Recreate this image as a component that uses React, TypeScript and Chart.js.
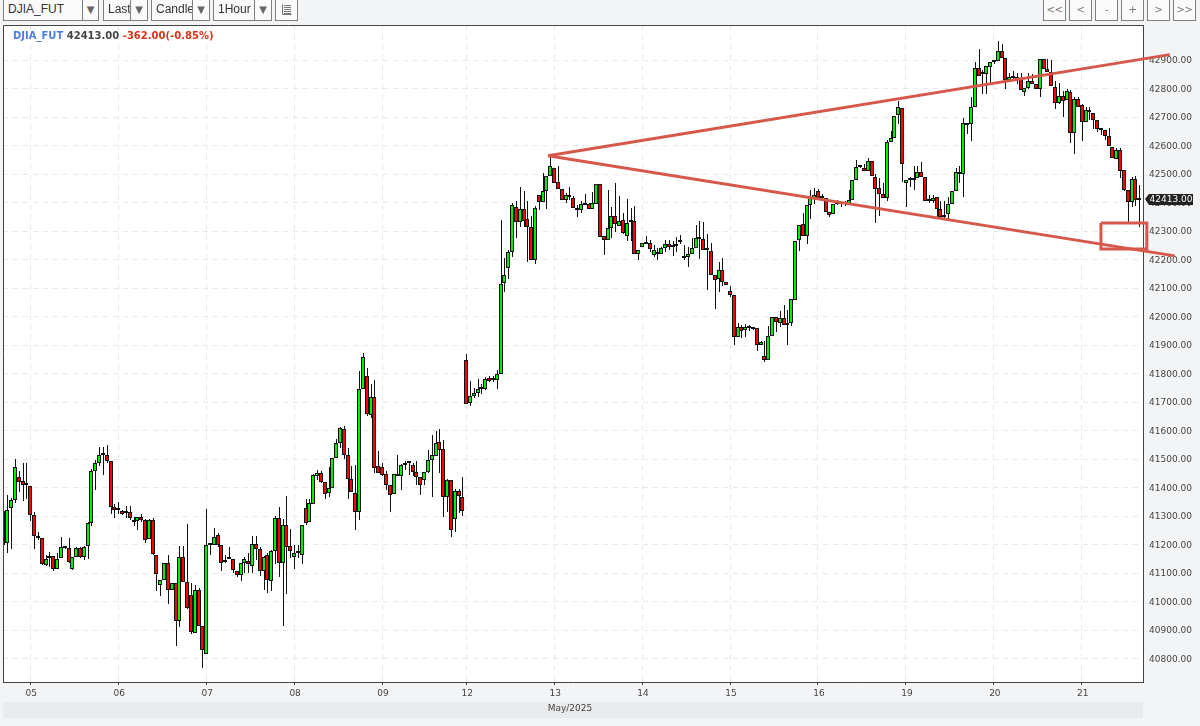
import React, { useEffect, useLayoutEffect, useRef } from "react";
import { Chart, registerables } from "chart.js";

Chart.register(...registerables);

const opens = [
  41200,41204,41327,41355,41436,41422,41408,41404,41303,41231,
  41224,41129,41152,41161,41116,41152,41190,41187,41116,41155,
  41187,41158,41195,41276,41460,41488,41520,41513,41492,41333,
  41320,41317,41310,41314,41288,41283,41298,41288,41221,41288,
  41164,41058,41076,41137,41041,41065,40931,41155,41070,41022,
  40890,41040,40913,40816,41200,41197,41232,41197,41139,41150,
  41150,41107,41093,41134,41141,41126,41203,41186,41107,41162,
  41072,41179,41295,41134,41269,41196,41155,41169,41165,41328,
  41279,41342,41442,41452,41421,41380,41400,41503,41558,41607,
  41514,41431,41382,41313,41745,41793,41654,41717,41475,41473,
  41448,41408,41378,41446,41440,41478,41485,41480,41454,41437,
  41426,41454,41498,41512,41560,41537,41368,41425,41290,41388,
  41367,41846,41696,41721,41732,41746,41746,41783,41779,41779,
  41797,42119,42170,42227,42385,42331,42376,42341,42313,42199,
  42427,42402,42440,42492,42523,42471,42447,42409,42427,42416,
  42380,42375,42399,42395,42378,42395,42464,42284,42270,42312,
  42352,42317,42340,42281,42333,42336,42220,42243,42258,42258,
  42216,42228,42219,42239,42253,42243,42249,42261,42207,42209,
  42220,42241,42278,42271,42234,42231,42147,42133,42165,42122,
  42090,42076,41927,41964,41952,41960,41960,41959,41899,41863,
  41849,41933,41999,41979,41995,41971,41978,42058,42267,42324,
  42281,42390,42415,42440,42418,42416,42367,42360,42395,42395,
  42395,42395,42409,42480,42528,42520,42510,42547,42489,42452,
  42431,42417,42614,42627,42708,42733,42470,42480,42480,42486,
  42506,42490,42407,42407,42420,42377,42352,42360,42395,42441,
  42506,42500,42675,42674,42737,42871,42850,42850,42875,42892,
  42895,42932,42906,42831,42837,42835,42835,42789,42802,42825,
  42815,42799,42902,42867,42859,42807,42751,42773,42761,42788,
  42644,42765,42742,42682,42724,42713,42688,42657,42655,42635,
  42595,42552,42586,42514,42444,42403,42481,42410,
];

const closes = [
  41317,41323,41355,41474,41420,41408,41415,41303,41231,41224,
  41132,41150,41161,41116,41150,41190,41188,41138,41155,41187,
  41155,41190,41276,41460,41488,41516,41513,41492,41333,41323,
  41320,41308,41311,41292,41281,41298,41285,41217,41288,41166,
  41096,41076,41137,41041,41065,40931,41155,41070,40978,40893,
  41040,40916,40830,41200,41197,41225,41197,41135,41146,41150,
  41111,41093,41135,41150,41131,41203,41183,41107,41157,41076,
  41179,41293,41136,41269,41192,41179,41169,41169,41269,41276,
  41345,41444,41452,41421,41379,41400,41505,41558,41610,41514,
  41431,41385,41313,41745,41857,41657,41717,41470,41452,41445,
  41408,41375,41446,41440,41480,41488,41485,41454,41437,41409,
  41454,41498,41515,41557,41533,41368,41425,41250,41388,41370,
  41318,41693,41721,41732,41746,41746,41781,41774,41779,41799,
  42115,42145,42227,42390,42331,42376,42337,42313,42199,42382,
  42403,42440,42492,42527,42468,42447,42409,42427,42420,42380,
  42375,42395,42392,42378,42399,42464,42280,42270,42312,42352,
  42325,42336,42293,42328,42333,42220,42233,42258,42255,42236,
  42233,42219,42239,42253,42243,42250,42256,42263,42207,42220,
  42241,42276,42271,42234,42232,42147,42130,42165,42122,42111,
  42076,41927,41965,41948,41964,41960,41958,41899,41910,41849,
  41933,41999,41982,41995,41971,41978,42060,42265,42320,42281,
  42390,42419,42426,42415,42416,42367,42357,42395,42395,42395,
  42395,42409,42478,42525,42526,42510,42547,42492,42448,42431,
  42417,42614,42627,42705,42736,42537,42480,42480,42480,42506,
  42488,42407,42405,42417,42377,42350,42350,42395,42441,42506,
  42500,42679,42672,42737,42871,42843,42850,42878,42892,42895,
  42932,42906,42831,42840,42838,42835,42795,42802,42825,42815,
  42799,42902,42867,42859,42810,42751,42773,42758,42790,42644,
  42765,42737,42682,42725,42717,42690,42657,42655,42635,42600,
  42555,42586,42511,42444,42403,42481,42410,42413,
];

const highs = [
  41317,41373,41363,41502,41458,41488,41486,41404,41314,41245,
  41224,41163,41174,41161,41169,41226,41193,41223,41155,41190,
  41190,41195,41278,41467,41496,41541,41541,41551,41492,41341,
  41348,41322,41337,41334,41298,41298,41308,41290,41290,41292,
  41164,41076,41137,41163,41067,41067,41195,41195,41272,41065,
  41060,41048,40913,41326,41200,41260,41240,41197,41165,41190,
  41150,41107,41137,41155,41169,41229,41231,41190,41160,41170,
  41182,41300,41332,41291,41370,41255,41198,41198,41269,41360,
  41359,41446,41462,41457,41421,41472,41505,41570,41613,41615,
  41538,41475,41480,41808,41871,41820,41765,41778,41527,41487,
  41460,41408,41446,41515,41482,41495,41490,41487,41495,41437,
  41454,41532,41585,41598,41605,41568,41430,41425,41396,41396,
  41437,41870,41773,41750,41782,41765,41789,41790,41793,41813,
  42338,42205,42235,42400,42407,42455,42440,42407,42353,42387,
  42427,42505,42492,42560,42523,42530,42447,42433,42454,42422,
  42393,42405,42430,42400,42436,42464,42464,42284,42444,42386,
  42467,42422,42365,42413,42381,42387,42233,42258,42283,42270,
  42252,42240,42245,42270,42270,42265,42280,42285,42252,42243,
  42274,42322,42337,42331,42291,42259,42147,42190,42207,42122,
  42106,42076,41979,41970,41973,41970,41965,41959,41915,41913,
  41966,41999,41999,42019,42040,42023,42060,42265,42320,42365,
  42390,42445,42450,42449,42430,42416,42367,42395,42410,42400,
  42405,42443,42478,42548,42533,42536,42558,42547,42500,42487,
  42467,42620,42650,42705,42755,42733,42480,42490,42529,42527,
  42543,42490,42428,42428,42420,42405,42405,42420,42441,42520,
  42527,42695,42680,42770,42893,42938,42865,42878,42892,42895,
  42966,42956,42906,42855,42860,42855,42855,42802,42855,42850,
  42815,42905,42905,42905,42900,42825,42820,42790,42797,42795,
  42770,42770,42745,42737,42737,42713,42688,42660,42655,42662,
  42595,42590,42590,42514,42444,42490,42494,42463,
];

const lows = [
  41195,41171,41185,41347,41385,41354,41359,41284,41184,41217,
  41128,41124,41122,41108,41116,41152,41185,41134,41112,41155,
  41152,41145,41150,41267,41391,41475,41444,41485,41307,41295,
  41308,41303,41292,41288,41265,41252,41280,41205,41218,41162,
  41038,41018,41076,40990,41041,40845,40912,41070,40975,40886,
  40890,40916,40768,40816,41165,41197,41190,41106,41135,41148,
  41100,41085,41071,41100,41100,41100,41146,41091,41040,41029,
  41036,41132,41088,40916,41025,41152,41115,41152,41132,41269,
  41279,41342,41425,41417,41361,41368,41400,41503,41540,41502,
  41359,41385,41250,41285,41745,41651,41644,41452,41452,41440,
  41392,41316,41378,41440,41392,41462,41444,41440,41410,41375,
  41409,41450,41368,41512,41453,41298,41315,41228,41243,41312,
  41302,41693,41688,41715,41718,41730,41741,41770,41770,41746,
  41797,42086,42133,42210,42277,42315,42313,42190,42199,42183,
  42375,42402,42377,42492,42468,42447,42409,42400,42410,42380,
  42348,42365,42390,42378,42378,42395,42280,42217,42270,42274,
  42298,42317,42290,42265,42265,42220,42200,42243,42253,42225,
  42208,42200,42219,42225,42235,42213,42228,42255,42198,42175,
  42220,42241,42201,42234,42094,42147,42028,42087,42106,42111,
  42068,41899,41927,41924,41930,41950,41952,41880,41899,41842,
  41849,41933,41947,41964,41971,41900,41966,42058,42230,42281,
  42256,42341,42394,42415,42410,42367,42350,42360,42390,42386,
  42388,42395,42409,42480,42523,42510,42510,42492,42330,42353,
  42417,42405,42614,42627,42676,42473,42385,42455,42443,42486,
  42488,42407,42400,42400,42348,42345,42345,42340,42395,42441,
  42469,42420,42642,42615,42737,42843,42780,42780,42820,42885,
  42895,42906,42797,42825,42825,42815,42795,42775,42800,42815,
  42799,42770,42867,42859,42810,42729,42745,42700,42761,42610,
  42570,42737,42615,42682,42691,42657,42649,42637,42620,42600,
  42555,42552,42486,42440,42330,42383,42388,42315,
];

const dayTicks = [7, 30, 53, 76, 99, 121, 144, 167, 190, 213, 236, 259, 282];
const dayLabels = ["05", "06", "07", "08", "09", "12", "13", "14", "15", "16", "19", "20", "21"];
const priceTicks = [
  40800, 40900, 41000, 41100, 41200, 41300, 41400, 41500, 41600, 41700, 41800,
  41900, 42000, 42100, 42200, 42300, 42400, 42500, 42600, 42700, 42800, 42900,
];

const upperTrendX = [142.4, 305];
const upperTrendY = [42564, 42919];
const lowerTrendX = [142.4, 306.3];
const lowerTrendY = [42564, 42213];
const boxX = [287, 299, 299, 287, 287];
const boxY = [42328, 42328, 42237, 42237, 42328];

const monthLabel = "May/2025";
const symbol = "DJIA_FUT";
const lastPrice = 42413;
const changeText = "-362.00(-0.85%)";

const selectors = [
  { text: "DJIA_FUT", left: 3, right: 98, split: 82 },
  { text: "Last", left: 103, right: 147, split: 130 },
  { text: "Candle", left: 151, right: 209, split: 192 },
  { text: "1Hour", left: 213, right: 271, split: 254 },
];
const navButtons = [
  { text: "<<", left: 1043, width: 22 },
  { text: "<", left: 1069, width: 22 },
  { text: "-", left: 1095, width: 22 },
  { text: "+", left: 1121, width: 22 },
  { text: ">", left: 1147, width: 22 },
  { text: ">>", left: 1173, width: 22 },
];

const UP = "#00f000";
const DOWN = "#ff0000";
const TREND = "#d6584b";
const FONT = "'DejaVu Sans', sans-serif";

const framePlugin = {
  id: "frame",
  beforeDraw(chart: any) {
    const { ctx, chartArea: a } = chart;
    ctx.save();
    ctx.fillStyle = "#ffffff";
    ctx.fillRect(a.left, a.top, a.right - a.left, a.bottom - a.top);
    ctx.fillStyle = "#e9eaec";
    ctx.fillRect(3, 702, 1140, 16);
    ctx.fillStyle = "#444444";
    ctx.font = `9px ${FONT}`;
    ctx.textAlign = "center";
    ctx.textBaseline = "middle";
    ctx.fillText(monthLabel, 570, 709);
    ctx.restore();
  },
  afterDatasetsDraw(chart: any) {
    const { ctx, chartArea: a } = chart;
    ctx.save();
    ctx.strokeStyle = "#444444";
    ctx.lineWidth = 1;
    ctx.beginPath();
    ctx.moveTo(a.left + 0.5, a.bottom);
    ctx.lineTo(a.left + 0.5, a.top + 0.5);
    ctx.lineTo(a.right, a.top + 0.5);
    ctx.stroke();
    ctx.restore();
  },
};

// Snaps the bars that the scales placed onto whole device pixels, so the thin candles stay crisp.
const snapPlugin = {
  id: "snap",
  beforeDatasetsDraw(chart: any) {
    chart.data.datasets.forEach((ds: any, index: number) => {
      if (ds.type !== "bar") return;
      const wick = ds.barThickness === 1;
      chart.getDatasetMeta(index).data.forEach((el: any) => {
        el.x = wick ? Math.round(el.x) + 0.5 : Math.round(el.x);
        el.y = Math.round(el.y);
        el.base = Math.round(el.base);
      });
    });
  },
};

const priceTagPlugin = {
  id: "priceTag",
  afterDraw(chart: any) {
    const { ctx, scales } = chart;
    const y = Math.round(scales.y.getPixelForValue(lastPrice));
    ctx.save();
    ctx.fillStyle = "#222222";
    ctx.beginPath();
    ctx.moveTo(1145, y);
    ctx.lineTo(1149, y - 5);
    ctx.lineTo(1193, y - 5);
    ctx.lineTo(1193, y + 6);
    ctx.lineTo(1149, y + 6);
    ctx.closePath();
    ctx.fill();
    ctx.fillStyle = "#ffffff";
    ctx.font = `9px ${FONT}`;
    ctx.textAlign = "left";
    ctx.textBaseline = "middle";
    ctx.fillText(lastPrice.toFixed(2), 1149.5, y + 0.5);
    ctx.restore();
  },
};

export default function App() {
  const ref = useRef<HTMLCanvasElement>(null);

  useLayoutEffect(() => {
    document.body.style.margin = "0";
    document.body.style.background = "#f3f4f6";
    document.body.style.overflow = "hidden";
  }, []);

  useEffect(() => {
    if (!ref.current) return;
    const xs = opens.map((_, i) => i);
    const chart = new Chart(ref.current, {
      type: "bar",
      data: {
        datasets: [
          {
            type: "line",
            data: upperTrendX.map((x, i) => ({ x, y: upperTrendY[i] })),
            borderColor: TREND,
            borderWidth: 3,
            pointRadius: 0,
            clip: false,
            order: 0,
          },
          {
            type: "line",
            data: lowerTrendX.map((x, i) => ({ x, y: lowerTrendY[i] })),
            borderColor: TREND,
            borderWidth: 3,
            pointRadius: 0,
            clip: false,
            order: 0,
          },
          {
            type: "line",
            data: boxX.map((x, i) => ({ x, y: boxY[i] })),
            borderColor: TREND,
            borderWidth: 3,
            pointRadius: 0,
            clip: false,
            order: 0,
          },
          {
            type: "bar",
            data: xs.map((i) => ({ x: i, y: [opens[i], closes[i]] })),
            backgroundColor: xs.map((i) => (closes[i] >= opens[i] ? UP : DOWN)),
            borderColor: "#111111",
            borderWidth: 1,
            borderSkipped: false,
            barThickness: 4,
            minBarLength: 2,
            inflateAmount: 0,
            grouped: false,
            order: 1,
          },
          {
            type: "bar",
            data: xs.map((i) => ({ x: i, y: [lows[i], highs[i]] })),
            backgroundColor: "#111111",
            borderWidth: 0,
            barThickness: 1,
            inflateAmount: 0,
            grouped: false,
            order: 2,
          },
        ],
      } as any,
      options: {
        responsive: false,
        animation: false,
        devicePixelRatio: 1,
        layout: { padding: { left: 3, top: 25, right: 0, bottom: 0 } },
        plugins: { legend: { display: false }, tooltip: { enabled: false }, title: { display: false } },
        events: [],
        scales: {
          x: {
            type: "linear",
            min: -0.13,
            max: 298,
            offset: false,
            grid: {
              offset: false,
              color: "#e8e8e8",
              tickColor: "#444444",
              tickLength: 3,
              lineWidth: 1,
            },
            border: { color: "#444444", width: 1, dash: [5, 5] },
            afterBuildTicks(scale: any) {
              scale.ticks = dayTicks.map((value) => ({ value }));
            },
            afterFit(scale: any) {
              scale.height = 44;
            },
            ticks: {
              autoSkip: false,
              maxRotation: 0,
              padding: 3,
              labelOffset: 1,
              color: "#444444",
              font: { family: FONT, size: 9 },
              callback: (v: any) => dayLabels[dayTicks.indexOf(v)] ?? "",
            },
          },
          y: {
            type: "linear",
            position: "right",
            min: 40718,
            max: 43023,
            grid: { color: "#e8e8e8", tickLength: 0, lineWidth: 1 },
            border: { color: "#444444", width: 1, dash: [5, 5] },
            afterBuildTicks(scale: any) {
              scale.ticks = priceTicks.map((value) => ({ value }));
            },
            afterFit(scale: any) {
              scale.width = 57;
            },
            ticks: {
              autoSkip: false,
              padding: 6,
              labelOffset: 1,
              color: "#444444",
              font: { family: FONT, size: 9 },
              callback: (v: any) => Number(v).toFixed(2),
            },
          },
        },
      } as any,
      plugins: [framePlugin, snapPlugin, priceTagPlugin],
    });
    return () => chart.destroy();
  }, []);

  const boxBase: React.CSSProperties = {
    position: "absolute",
    top: -1,
    height: 20,
    border: "1px solid #808080",
    background: "#fafafa",
    boxSizing: "content-box",
    overflow: "hidden",
    whiteSpace: "nowrap",
    color: "#333",
  };

  return (
    <div style={{ position: "relative", width: 1200, height: 726, background: "#f3f4f6", overflow: "hidden" }}>
      <canvas ref={ref} width={1200} height={726} style={{ position: "absolute", left: 0, top: 0, display: "block" }} />
      {selectors.map((s) => (
        <React.Fragment key={s.text}>
          <div
            style={{
              ...boxBase,
              left: s.left,
              width: s.split - s.left - 1,
              font: "12px 'Liberation Sans', Arial, sans-serif",
              lineHeight: "19px",
              textIndent: 4,
            }}
          >
            {s.text}
          </div>
          <div
            style={{
              ...boxBase,
              left: s.split,
              width: s.right - s.split - 1,
              font: "10px 'DejaVu Sans', sans-serif",
              lineHeight: "19px",
              textAlign: "center",
              color: "#666",
            }}
          >
            ▼
          </div>
        </React.Fragment>
      ))}
      <div style={{ ...boxBase, left: 275, width: 21 }}>
        <svg width="21" height="20" style={{ display: "block" }}>
          <path d="M6.5 4.5V14.5H15.5M8 5.5H15M8 7.5H15M8 9.5H15M8 11.5H15M8 13.5H15" stroke="#777" strokeWidth="1" fill="none" />
        </svg>
      </div>
      {navButtons.map((b) => (
        <div
          key={b.left}
          style={{
            ...boxBase,
            left: b.left,
            width: b.width - 1,
            font: "10px 'DejaVu Sans', sans-serif",
            letterSpacing: "-0.5px",
            lineHeight: "19px",
            textAlign: "center",
            color: "#777",
          }}
        >
          {b.text}
        </div>
      ))}
      <div
        style={{
          position: "absolute",
          left: 13,
          top: 30,
          font: "bold 10px 'DejaVu Sans', sans-serif",
          lineHeight: "12px",
          whiteSpace: "nowrap",
        }}
      >
        <span style={{ color: "#4a7de8" }}>{symbol}</span>{" "}
        <span style={{ color: "#444" }}>{lastPrice.toFixed(2)}</span>{" "}
        <span style={{ color: "#d8341c" }}>{changeText}</span>
      </div>
    </div>
  );
}
